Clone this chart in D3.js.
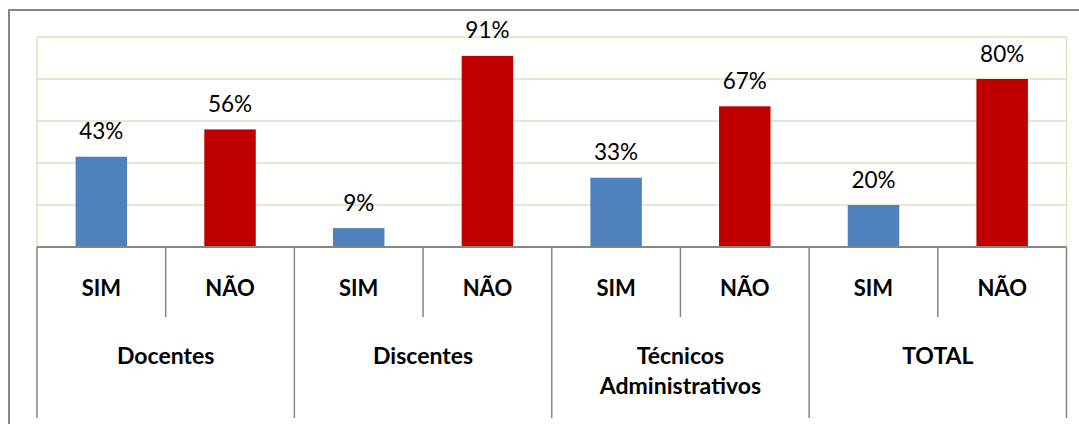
<!DOCTYPE html>
<html><head><meta charset="utf-8">
<script src="https://cdn.jsdelivr.net/npm/d3@7"></script>
<style>
html,body{margin:0;padding:0;background:#fff;}
svg{display:block;}
</style></head>
<body>
<script>
const groups = ["Docentes", "Discentes", "Técnicos Administrativos", "TOTAL"];
const groupLines = [["Docentes"], ["Discentes"], ["Técnicos", "Administrativos"], ["TOTAL"]];
const answers = ["SIM", "NÃO"];
const simValues = [43, 9, 33, 20];
const naoValues = [56, 91, 67, 80];
const yTicks = [0, 20, 40, 60, 80, 100];

const W = 1079, H = 424;
const plot = {left: 37, right: 1066.5, top: 37, bottom: 247};

const rows = [];
groups.forEach((g, i) => {
  rows.push({group: g, gi: i, answer: "SIM", value: simValues[i], key: i + "-SIM"});
  rows.push({group: g, gi: i, answer: "NÃO", value: naoValues[i], key: i + "-NAO"});
});

const svg = d3.select("body").append("svg").attr("width", W).attr("height", H);

// outer frame
svg.append("rect").attr("x", 9).attr("y", 10).attr("width", 1200).attr("height", 600)
  .attr("fill", "none").attr("stroke", "#868686").attr("stroke-width", 2);

const x = d3.scaleBand().domain(rows.map(d => d.key)).range([plot.left, plot.right])
  .paddingInner(0.6).paddingOuter(0.3);
const y = d3.scaleLinear().domain([0, 100]).range([plot.bottom, plot.top]);

// gridlines
svg.append("g").selectAll("line").data(yTicks).join("line")
  .attr("x1", plot.left).attr("x2", plot.right)
  .attr("y1", d => y(d)).attr("y2", d => y(d))
  .attr("stroke", "#d7e4bd").attr("stroke-width", 1.5);
// plot area side borders
svg.append("g").selectAll("line").data([plot.left, plot.right]).join("line")
  .attr("x1", d => d).attr("x2", d => d).attr("y1", plot.top).attr("y2", plot.bottom)
  .attr("stroke", "#d7e4bd").attr("stroke-width", 1.5);

// bars
svg.append("g").selectAll("rect").data(rows).join("rect")
  .attr("x", d => x(d.key)).attr("width", x.bandwidth())
  .attr("y", d => y(d.value)).attr("height", d => y(0) - y(d.value))
  .attr("fill", d => d.answer === "SIM" ? "#4f81bd" : "#c00000");

// value labels
svg.append("g").selectAll("text").data(rows).join("text")
  .attr("x", d => x(d.key) + x.bandwidth() / 2)
  .attr("y", d => y(d.value) - 17.5)
  .attr("text-anchor", "middle")
  .style("font-family", "Lato, 'Open Sans', sans-serif").style("font-size", "22.5px")
  .attr("fill", "#000")
  .text(d => d.value + "%");

// category axis (two levels)
const step = x.step();
const bounds = d3.range(rows.length + 1).map(i => plot.left + i * step);
const axisColor = "#868686";
svg.append("line").attr("x1", plot.left).attr("x2", plot.right)
  .attr("y1", plot.bottom).attr("y2", plot.bottom)
  .attr("stroke", axisColor).attr("stroke-width", 2);
svg.append("g").selectAll("line").data(bounds).join("line")
  .attr("x1", d => d).attr("x2", d => d)
  .attr("y1", plot.bottom)
  .attr("y2", (d, i) => i % 2 === 0 ? 418 : 317)
  .attr("stroke", axisColor).attr("stroke-width", 1.5);

svg.append("g").selectAll("text").data(rows).join("text")
  .attr("x", d => x(d.key) + x.bandwidth() / 2)
  .attr("y", 295.5)
  .attr("text-anchor", "middle")
  .style("font-family", "Lato, 'Open Sans', sans-serif").style("font-size", "22px").style("font-weight", "bold")
  .attr("fill", "#000")
  .text(d => d.answer);

const gText = svg.append("g").selectAll("text").data(groups).join("text")
  .attr("x", (d, i) => (x(i + "-SIM") + x(i + "-NAO") + x.bandwidth()) / 2)
  .attr("y", 364)
  .attr("text-anchor", "middle")
  .style("font-family", "Lato, 'Open Sans', sans-serif").style("font-size", "23px").style("font-weight", "bold")
  .attr("fill", "#000");
gText.each(function(d, i) {
  const t = d3.select(this);
  const cx = t.attr("x");
  groupLines[i].forEach((line, j) => {
    t.append("tspan").attr("x", cx).attr("dy", j === 0 ? 0 : 30).text(line);
  });
});
</script>
</body></html>
